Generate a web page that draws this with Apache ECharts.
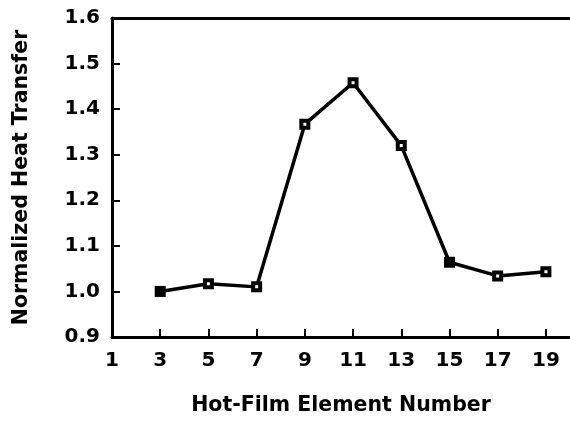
<!DOCTYPE html>
<html>
<head>
<meta charset="utf-8">
<script src="https://cdn.jsdelivr.net/npm/echarts@6/dist/echarts.min.js"></script>
<style>html,body{margin:0;padding:0;background:#fff}#c{width:570px;height:421px}</style>
</head>
<body>
<div id="c"></div>
<script>
var elements = [3, 5, 7, 9, 11, 13, 15, 17, 19];
var heatTransfer = [1.000, 1.017, 1.010, 1.367, 1.458, 1.320, 1.064, 1.034, 1.043];
var xTickLabels = [1, 3, 5, 7, 9, 11, 13, 15, 17, 19];
var yTickLabels = [0.9, 1.0, 1.1, 1.2, 1.3, 1.4, 1.5, 1.6];
var solidMarkers = [3, 15];

var font = 'DejaVu Sans';
var chart = echarts.init(document.getElementById('c'), null, {renderer: 'canvas'});
var data = elements.map(function (e, i) {
  var solid = solidMarkers.indexOf(e) >= 0;
  return {
    value: [e, heatTransfer[i]],
    symbolSize: solid ? 11 : 7,
    itemStyle: {color: solid ? '#000' : '#fff', borderColor: '#000', borderWidth: solid ? 0 : 4}
  };
});
chart.setOption({
  animation: false,
  backgroundColor: '#fff',
  grid: {left: 112, top: 18, right: 0, bottom: 75},
  xAxis: [{
    type: 'value', min: 1, max: 20,
    name: 'Hot-Film Element Number', nameLocation: 'middle', nameGap: 58,
    nameTextStyle: {fontFamily: font, fontWeight: 'bold', fontSize: 20.5, color: '#000'},
    axisLine: {lineStyle: {color: '#000', width: 3}},
    axisTick: {inside: true, length: 8, lineStyle: {color: '#000', width: 2}, customValues: xTickLabels.slice(1)},
    axisLabel: {customValues: xTickLabels, margin: 14, fontFamily: font, fontWeight: 'bold', fontSize: 20, color: '#000'},
    splitLine: {show: false}
  }, {
    type: 'value', min: 1, max: 20, position: 'top',
    axisLine: {show: true, lineStyle: {color: '#000', width: 3}},
    axisTick: {show: false}, axisLabel: {show: false}, splitLine: {show: false}
  }],
  yAxis: {
    type: 'value', min: 0.9, max: 1.6, interval: 0.1,
    name: 'Normalized Heat Transfer', nameLocation: 'middle', nameGap: 80,
    nameTextStyle: {fontFamily: font, fontWeight: 'bold', fontSize: 20.5, color: '#000'},
    axisLine: {show: true, lineStyle: {color: '#000', width: 3}},
    axisTick: {inside: true, length: 8, lineStyle: {color: '#000', width: 2}},
    axisLabel: {margin: 12, fontFamily: font, fontWeight: 'bold', fontSize: 20, color: '#000',
      formatter: function (v) { return (Math.round(v * 10) / 10).toFixed(1); }},
    splitLine: {show: false}
  },
  series: [{
    type: 'line', data: data, symbol: 'rect',
    lineStyle: {color: '#000', width: 3.5},
    z: 3
  }]
});
</script>
</body>
</html>
